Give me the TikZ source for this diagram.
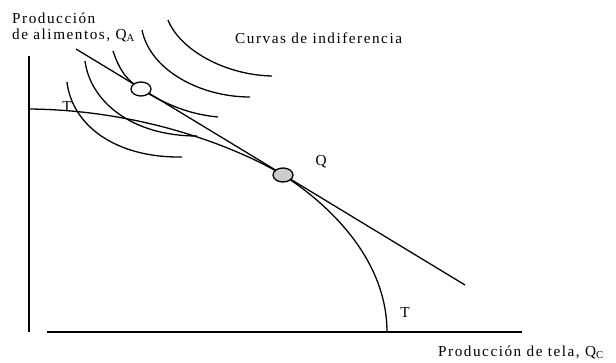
\documentclass[tikz,border=0pt]{standalone}
\usepackage{fontspec}
\setmainfont[LetterSpace=10]{Liberation Serif}
\usetikzlibrary{shapes.geometric}

\begin{document}
\begin{tikzpicture}[x=0.03cm, y=-0.03cm,
    curve/.style={line width=1.1pt},
    point/.style={ellipse, draw, line width=1.1pt, fill=white, minimum width=0.6cm, minimum height=0.42cm, inner sep=0pt},
    lbl/.style={font=\fontsize{13}{15}\selectfont, inner sep=0pt}
]
    \useasboundingbox (0,0) rectangle (616,362);

    % Axes
    \coordinate (ytop) at (29,56);
    \coordinate (ybot) at (29,332);
    \coordinate (xleft) at (47,332);
    \coordinate (xright) at (522,332);
    \draw[curve] (ytop) -- (ybot);
    \draw[curve] (xleft) -- (xright);

    % Labels
    \node[lbl, anchor=west] (ylab1) at (12,18) {Producción};
    \node[lbl, anchor=west] (ylab2) at (12,35) {de alimentos, Q\textsubscript{A}};
    \node[lbl, anchor=west] (title) at (235,38) {Curvas de indiferencia};
    \node[lbl, anchor=west] (xlab) at (438,352) {Producción de tela, Q\textsubscript{C}};
    \node[lbl] (T1) at (67,107) {T};
    \node[lbl] (Qlab) at (321,162) {Q};
    \node[lbl] (T2) at (405,313) {T};

    % Indifference curves
    \draw[curve] (168,20) .. controls (180,50) and (225,75) .. (272,76);
    \draw[curve] (142,30) .. controls (150,70) and (200,97) .. (250,97);
    \draw[curve] (113,51) .. controls (120,72) and (128,81) .. (141,89)
        .. controls (160,101) and (185,114) .. (218,117);
    \draw[curve] (85,61) .. controls (90,100) and (130,136) .. (197,136);
    \draw[curve] (67,82) .. controls (72,125) and (115,158) .. (182,157);

    % Transformation curve T-T
    \coordinate (Ttop) at (29,109);
    \coordinate (Tbot) at (387,332);
    \draw[curve] (Ttop) .. controls (150,110) and (245,152) .. (283,175)
        .. controls (330,205) and (387,260) .. (Tbot);

    % Price line
    \coordinate (pA) at (76,49);
    \coordinate (pB) at (465,285);
    \draw[curve] (pA) -- (pB);

    % Points
    \node[point] (E) at (141,89) {};
    \node[point, fill=gray!40] (Q) at (283,175) {};
\end{tikzpicture}
\end{document}
